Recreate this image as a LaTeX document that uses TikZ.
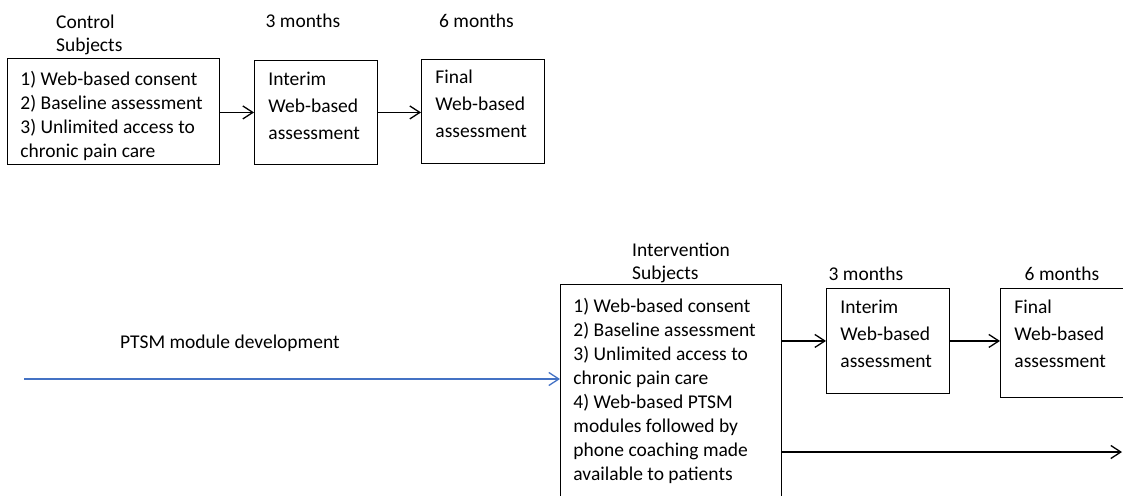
\documentclass[tikz,border=0pt]{standalone}
\usepackage{fontspec}
\setmainfont{Carlito}
\usetikzlibrary{arrows.meta}
\definecolor{ptsmblue}{HTML}{4472C4}
\begin{document}
\begin{tikzpicture}[x=1pt,y=-1pt]
    \tikzstyle{every node}=[font=\fontsize{19.5}{23}\selectfont]
    \tikzstyle{stage}=[draw=black,line width=0.9pt,rectangle,anchor=north west,align=flush left,inner ysep=0pt,text height=25pt,font=\fontsize{19.5}{24}\selectfont]
    \tikzstyle{visit}=[stage,text width=95pt,inner xsep=14pt,text depth=79pt,font=\fontsize{19.5}{27}\selectfont]
    \tikzstyle{caption}=[align=left,anchor=west,inner sep=0pt]
    \tikzstyle{flow}=[line width=1.3pt,-{Straight Barb[length=10pt,width=13pt]}]

    \useasboundingbox (0,0) rectangle (1123,495);
    \clip (0,0) rectangle (1123,495);

    % control arm
    \node[caption] at (56,34.5) (ctrltitle) {Control\\Subjects};
    \node at (303,21) (c3) {3 months};
    \node at (476.5,21) (c6) {6 months};
    \node[stage,text width=186pt,inner xsep=13pt,text height=27pt,text depth=79pt] at (7,58) (ctrl) {1) Web-based consent\\2) Baseline assessment\\3) Unlimited access to\\chronic pain care};
    \node[visit] at (254,60) (cint) {Interim\\Web-based\\assessment};
    \node[visit,text height=24pt,text depth=80pt] at (421,59) (cfin) {Final\\Web-based\\assessment};

    \draw[flow] (ctrl.east |- cint.west) -- (cint.west);
    \draw[flow] (cint.east) -- (cfin.west |- cint.east);

    % intervention arm
    \node[caption] at (120,343) (ptsm) {PTSM module development};
    \coordinate (pstart) at (24,379);
    \coordinate (iend) at (1122,452);
    \node[caption] at (632,262.5) (inttitle) {Intervention\\Subjects};
    \node at (866,274) (i3) {3 months};
    \node at (1062,274) (i6) {6 months};
    \node[stage,text width=195pt,inner xsep=13pt,text height=28pt,text depth=217pt] at (560,284) (iall) {1) Web-based consent\\2) Baseline assessment\\3) Unlimited access to\\chronic pain care\\4) Web-based PTSM\\modules followed by\\phone coaching made\\available to patients};
    \node[visit,text depth=80pt] at (826,288) (iint) {Interim\\Web-based\\assessment};
    \node[visit,text depth=84pt] at (1000,288) (ifin) {Final\\Web-based\\assessment};

    \draw[flow,draw=ptsmblue,line width=1.3pt] (pstart) -- (pstart -| iall.west);
    \draw[flow] (iall.east |- iint.west) -- (iint.west);
    \draw[flow] (iint.east) -- (ifin.west |- iint.east);
    \draw[flow] (iall.east |- iend) -- (iend);
\end{tikzpicture}
\end{document}
